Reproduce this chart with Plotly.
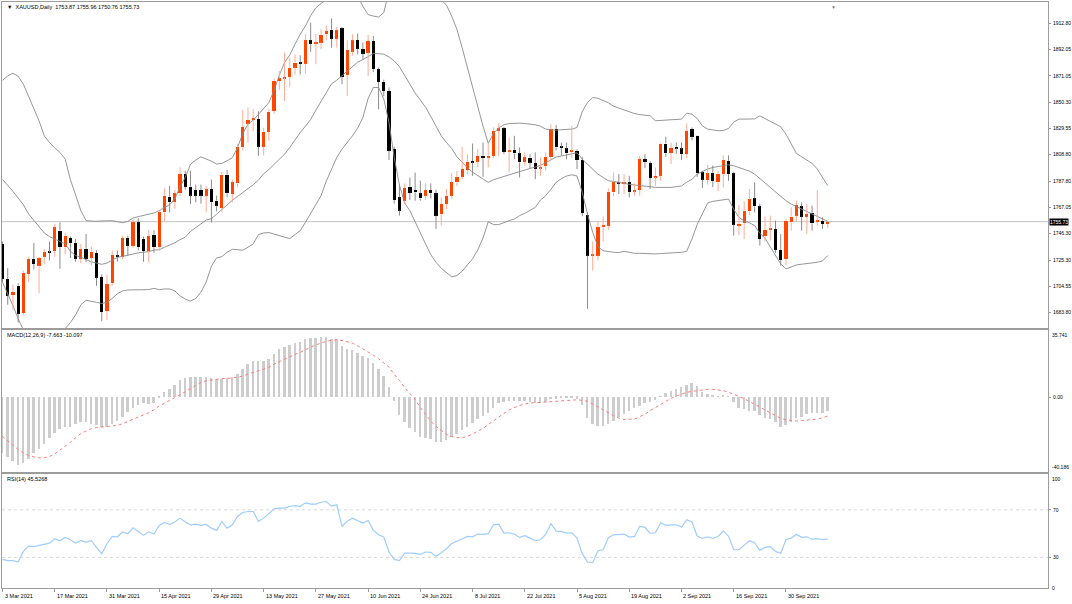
import plotly.graph_objects as go
from plotly.subplots import make_subplots

# XAUUSD daily, 3 Mar 2021 .. 12 Oct 2021 (bar index 0..158)
opens = [1738.1, 1710.5, 1697.5, 1705.2, 1683.4, 1714.4, 1726.3, 1721.0, 1728.0, 1731.5,
         1732.3, 1748.6, 1735.5, 1742.8, 1738.6, 1726.3, 1734.2, 1727.0, 1731.0, 1712.0,
         1685.0, 1707.0, 1729.0, 1728.0, 1742.8, 1736.8, 1755.2, 1742.0, 1732.3, 1745.2,
         1735.5, 1763.1, 1775.5, 1771.0, 1778.1, 1793.3, 1783.4, 1780.7, 1780.7, 1776.3,
         1781.5, 1772.3, 1766.5, 1792.8, 1777.6, 1786.0, 1814.4, 1833.3, 1836.2, 1836.8,
         1814.9, 1826.8, 1843.3, 1867.0, 1869.3, 1870.2, 1877.5, 1881.5, 1880.7, 1899.1,
         1896.5, 1897.3, 1903.9, 1907.5, 1900.4, 1908.6, 1871.8, 1890.2, 1899.4, 1892.0,
         1889.4, 1898.6, 1876.2, 1866.2, 1859.1, 1813.1, 1775.0, 1772.3, 1783.4, 1780.7,
         1778.1, 1776.3, 1780.7, 1778.1, 1761.8, 1769.7, 1776.3, 1786.8, 1791.2, 1796.5,
         1803.6, 1803.1, 1807.8, 1806.5, 1807.8, 1827.6, 1829.5, 1811.0, 1812.5, 1809.7,
         1803.1, 1806.3, 1802.0, 1798.0, 1799.9, 1807.0, 1828.9, 1814.9, 1813.6, 1811.0,
         1811.8, 1804.4, 1761.0, 1728.9, 1728.9, 1751.8, 1752.6, 1778.9, 1786.8, 1785.8,
         1786.8, 1779.7, 1780.7, 1805.2, 1802.0, 1791.0, 1792.0, 1817.5, 1809.7, 1814.9,
         1813.6, 1809.1, 1828.9, 1823.6, 1794.7, 1788.6, 1793.9, 1786.8, 1793.3, 1803.9,
         1793.9, 1752.8, 1754.4, 1763.9, 1774.1, 1767.8, 1744.2, 1749.4, 1749.9, 1733.4,
         1726.3, 1755.2, 1760.5, 1767.8, 1759.7, 1762.6, 1755.7, 1756.5, 1753.87]
highs = [1740.0, 1719.0, 1706.0, 1707.0, 1717.0, 1728.0, 1739.0, 1728.0, 1734.0, 1740.0,
         1754.0, 1755.2, 1747.0, 1744.0, 1742.0, 1738.0, 1746.0, 1736.0, 1733.0, 1714.0,
         1714.0, 1733.0, 1733.0, 1744.5, 1744.6, 1757.9, 1758.5, 1744.0, 1749.0, 1749.0,
         1764.0, 1782.0, 1784.0, 1781.0, 1798.6, 1796.0, 1796.0, 1785.0, 1785.0, 1784.0,
         1789.0, 1776.3, 1795.0, 1796.5, 1789.0, 1817.0, 1844.0, 1846.0, 1844.6, 1843.0,
         1830.0, 1845.0, 1869.0, 1874.9, 1889.4, 1885.4, 1888.0, 1887.3, 1903.9, 1913.1,
         1903.9, 1907.8, 1910.4, 1916.5, 1909.5, 1909.5, 1899.1, 1903.9, 1904.4, 1897.3,
         1903.3, 1902.5, 1877.5, 1868.0, 1861.8, 1815.0, 1785.0, 1786.0, 1790.7, 1794.6,
         1788.1, 1786.0, 1786.0, 1781.0, 1774.9, 1781.5, 1793.9, 1795.9, 1814.9, 1809.1,
         1817.5, 1813.1, 1818.3, 1817.0, 1830.2, 1833.6, 1830.7, 1822.3, 1823.6, 1814.4,
         1810.5, 1809.2, 1810.5, 1806.5, 1810.5, 1832.8, 1832.0, 1818.3, 1818.3, 1831.5,
         1813.0, 1807.0, 1763.0, 1740.0, 1756.5, 1760.0, 1782.0, 1794.7, 1793.3, 1793.3,
         1792.0, 1786.0, 1807.8, 1809.1, 1803.5, 1798.6, 1818.3, 1822.8, 1818.3, 1818.3,
         1818.3, 1833.3, 1830.2, 1824.0, 1796.0, 1800.7, 1800.0, 1796.0, 1808.1, 1808.1,
         1795.0, 1769.0, 1772.0, 1781.5, 1786.8, 1770.0, 1759.7, 1760.5, 1756.5, 1746.0,
         1758.0, 1767.0, 1772.3, 1771.0, 1769.7, 1768.4, 1780.7, 1759.2, 1755.96]
lows = [1708.0, 1690.0, 1686.0, 1676.0, 1682.0, 1708.0, 1718.0, 1699.0, 1722.0, 1725.0,
        1728.0, 1718.4, 1730.0, 1727.0, 1724.0, 1723.0, 1723.6, 1721.0, 1705.0, 1677.0,
        1678.0, 1705.0, 1724.0, 1726.0, 1728.9, 1735.0, 1733.0, 1724.0, 1723.6, 1731.0,
        1733.0, 1756.0, 1763.0, 1766.0, 1776.0, 1781.0, 1769.7, 1771.0, 1770.0, 1763.1,
        1755.0, 1763.9, 1763.1, 1775.0, 1771.0, 1783.0, 1812.0, 1818.3, 1827.0, 1807.8,
        1808.0, 1819.7, 1841.0, 1860.0, 1851.2, 1862.0, 1872.0, 1872.0, 1872.8, 1890.0,
        1880.2, 1892.0, 1899.0, 1893.3, 1893.3, 1864.4, 1855.2, 1887.0, 1888.0, 1884.0,
        1871.0, 1874.0, 1844.6, 1855.0, 1804.4, 1770.0, 1760.5, 1769.7, 1772.8, 1772.3,
        1772.3, 1773.0, 1774.0, 1749.9, 1752.6, 1765.7, 1774.0, 1784.0, 1789.0, 1793.0,
        1792.0, 1798.6, 1791.2, 1798.6, 1806.0, 1807.8, 1809.0, 1794.7, 1805.0, 1790.7,
        1800.0, 1798.0, 1789.4, 1792.0, 1796.0, 1805.0, 1812.0, 1808.0, 1805.0, 1806.0,
        1797.3, 1760.0, 1686.8, 1717.0, 1725.0, 1740.0, 1749.0, 1776.0, 1777.6, 1777.6,
        1774.9, 1776.3, 1776.3, 1798.0, 1781.5, 1784.1, 1788.0, 1807.0, 1801.2, 1809.0,
        1804.4, 1806.0, 1820.0, 1791.0, 1782.3, 1785.0, 1783.0, 1780.0, 1782.8, 1788.0,
        1744.7, 1745.0, 1742.0, 1761.0, 1763.0, 1736.8, 1740.0, 1741.0, 1731.0, 1721.0,
        1721.5, 1748.6, 1756.0, 1748.6, 1746.0, 1748.6, 1752.6, 1749.9, 1750.76]
closes = [1710.5, 1697.3, 1700.0, 1682.8, 1714.9, 1726.3, 1722.3, 1726.8, 1731.5, 1731.0,
          1751.2, 1735.5, 1744.7, 1738.9, 1726.3, 1734.2, 1726.3, 1732.0, 1711.3, 1684.2,
          1706.5, 1729.5, 1728.0, 1742.8, 1736.8, 1755.2, 1735.5, 1732.3, 1744.7, 1735.5,
          1763.1, 1776.3, 1771.0, 1778.1, 1793.3, 1783.4, 1776.3, 1776.3, 1776.3, 1781.5,
          1771.0, 1768.4, 1792.8, 1778.1, 1786.8, 1814.9, 1830.7, 1836.0, 1837.5, 1814.9,
          1826.8, 1842.6, 1867.0, 1869.1, 1869.8, 1877.0, 1881.5, 1880.7, 1899.1, 1896.5,
          1896.9, 1903.3, 1906.5, 1900.4, 1907.0, 1870.2, 1891.5, 1899.1, 1892.5, 1888.6,
          1898.6, 1876.2, 1866.2, 1859.1, 1811.8, 1772.8, 1764.4, 1782.3, 1778.4, 1778.9,
          1774.1, 1780.7, 1778.1, 1760.5, 1769.7, 1776.3, 1786.8, 1791.2, 1797.3, 1803.1,
          1802.6, 1807.8, 1806.0, 1807.5, 1827.6, 1829.5, 1811.0, 1811.8, 1809.7, 1802.6,
          1806.5, 1802.4, 1797.3, 1798.6, 1806.5, 1828.9, 1814.4, 1814.1, 1809.7, 1811.8,
          1804.4, 1762.6, 1728.9, 1729.7, 1751.3, 1752.8, 1779.4, 1786.8, 1786.0, 1786.3,
          1778.9, 1780.5, 1805.2, 1802.6, 1790.2, 1791.8, 1817.5, 1809.7, 1813.9, 1813.9,
          1809.1, 1827.6, 1822.8, 1793.9, 1788.9, 1793.9, 1788.1, 1793.3, 1804.4, 1793.3,
          1753.4, 1753.8, 1763.9, 1773.6, 1767.8, 1742.0, 1749.2, 1750.2, 1733.4, 1725.5,
          1756.5, 1759.7, 1769.1, 1759.7, 1761.8, 1754.4, 1756.5, 1753.9, 1755.73]

# Bollinger Bands (20, 2)
bb_upper = [1867.5, 1870.9, 1873.1, 1870.7, 1864.4, 1854.4, 1844.7, 1835.4, 1823.6, 1818.3,
            1814.1, 1810.5, 1805.2, 1788.9, 1776.8, 1764.4, 1756.5, 1756.0, 1756.0, 1756.3,
            1756.5, 1756.5, 1755.7, 1754.9, 1756.0, 1758.6, 1759.7, 1760.5, 1761.3, 1762.6,
            1764.4, 1767.0, 1769.1, 1773.9, 1783.4, 1790.7, 1801.2, 1804.4, 1807.0, 1805.2,
            1803.6, 1801.3, 1801.8, 1803.9, 1806.3, 1814.2, 1825.5, 1832.8, 1836.0, 1840.5,
            1845.2, 1849.9, 1859.7, 1871.5, 1881.5, 1887.5, 1896.0, 1903.9, 1910.4, 1918.6,
            1924.9, 1928.1, 1931.5, 1933.0, 1932.0, 1935.0, 1934.0, 1934.5, 1934.0, 1926.0,
            1919.4, 1918.3, 1917.5, 1921.0, 1937.9, 1959.0, 1971.9, 1973.0, 1967.0, 1962.0,
            1957.6, 1954.3, 1948.1, 1937.8, 1931.0, 1927.0, 1918.3, 1907.8, 1893.3, 1877.5,
            1863.0, 1846.5, 1831.2, 1817.6, 1825.5, 1829.9, 1832.3, 1833.3, 1833.6, 1833.6,
            1833.3, 1832.8, 1832.3, 1831.2, 1828.9, 1828.4, 1828.1, 1828.4, 1828.6, 1828.9,
            1830.2, 1842.8, 1849.9, 1853.9, 1853.3, 1851.8, 1849.7, 1847.0, 1845.5, 1843.6,
            1842.3, 1841.2, 1840.4, 1839.9, 1839.4, 1835.5, 1835.7, 1836.0, 1836.0, 1836.5,
            1836.8, 1841.5, 1840.7, 1837.3, 1831.5, 1828.9, 1828.1, 1827.6, 1827.8, 1829.4,
            1834.4, 1836.8, 1836.8, 1836.8, 1837.0, 1839.4, 1837.3, 1835.5, 1833.3, 1830.7,
            1824.9, 1817.6, 1809.7, 1807.0, 1804.4, 1801.8, 1797.3, 1790.7, 1784.2]
bb_middle = [1789.1, 1784.7, 1779.7, 1774.4, 1769.1, 1761.8, 1756.5, 1751.3, 1746.8, 1743.9,
             1742.0, 1740.2, 1738.1, 1732.3, 1728.9, 1727.6, 1725.5, 1724.0, 1723.0, 1722.0,
             1723.0, 1725.0, 1727.5, 1728.3, 1729.3, 1730.5, 1731.1, 1731.6, 1732.0, 1733.3,
             1733.5, 1735.5, 1737.0, 1739.0, 1741.5, 1743.5, 1748.0, 1751.0, 1753.5, 1757.0,
             1758.1, 1761.5, 1764.9, 1768.9, 1772.6, 1775.5, 1778.6, 1781.8, 1784.9, 1788.6,
             1793.6, 1797.0, 1801.0, 1804.9, 1809.1, 1814.4, 1820.7, 1826.2, 1831.2, 1836.5,
             1843.9, 1850.7, 1857.0, 1864.7, 1867.6, 1871.0, 1874.4, 1878.1, 1881.8, 1883.9,
             1886.0, 1888.6, 1888.6, 1888.1, 1886.0, 1882.8, 1878.3, 1871.8, 1864.4, 1857.5,
             1851.8, 1846.2, 1838.9, 1830.7, 1823.6, 1818.3, 1813.6, 1807.0, 1802.6, 1798.4,
             1794.9, 1791.8, 1789.4, 1786.8, 1788.9, 1790.2, 1791.5, 1793.1, 1794.1, 1795.5,
             1796.8, 1797.8, 1798.9, 1800.2, 1802.3, 1804.4, 1806.8, 1807.6, 1808.6, 1809.7,
             1810.2, 1805.2, 1801.2, 1797.3, 1793.3, 1790.7, 1788.1, 1787.6, 1786.8, 1785.5,
             1785.2, 1784.7, 1784.4, 1783.9, 1783.4, 1782.8, 1782.8, 1782.8, 1782.8, 1783.4,
             1783.9, 1787.0, 1789.1, 1793.3, 1795.4, 1797.3, 1798.6, 1799.4, 1800.2, 1800.7,
             1799.9, 1798.6, 1797.3, 1795.7, 1793.3, 1789.4, 1786.3, 1782.8, 1779.1, 1775.5,
             1772.3, 1769.7, 1767.6, 1765.5, 1763.9, 1761.8, 1759.9, 1757.8, 1756.0]
bb_lower = [1707.8, 1699.2, 1689.4, 1678.9, 1670.0, 1669.2, 1668.3, 1667.2, 1670.0, 1669.5,
            1669.9, 1669.9, 1671.0, 1676.0, 1682.0, 1690.0, 1693.5, 1693.0, 1692.0, 1691.0,
            1692.0, 1695.0, 1698.8, 1701.0, 1701.7, 1701.8, 1702.0, 1702.0, 1702.0, 1703.0,
            1702.0, 1702.5, 1702.5, 1701.0, 1697.0, 1694.5, 1693.0, 1695.0, 1700.0, 1708.0,
            1720.5, 1727.1, 1728.1, 1731.5, 1733.9, 1733.6, 1733.1, 1735.5, 1738.1, 1745.5,
            1746.8, 1747.1, 1746.0, 1745.0, 1743.9, 1742.3, 1745.5, 1748.6, 1755.2, 1762.3,
            1769.1, 1776.3, 1787.8, 1796.8, 1806.5, 1813.1, 1818.3, 1823.6, 1829.7, 1838.1,
            1853.1, 1861.8, 1861.8, 1852.8, 1834.1, 1806.5, 1784.7, 1770.5, 1764.4, 1755.2,
            1746.0, 1738.1, 1729.7, 1723.6, 1718.9, 1715.7, 1712.1, 1713.1, 1716.5, 1721.5,
            1726.3, 1733.4, 1742.8, 1755.7, 1753.4, 1753.4, 1755.2, 1756.5, 1757.8, 1760.5,
            1762.3, 1764.4, 1767.0, 1772.8, 1776.3, 1781.3, 1786.8, 1789.7, 1791.8, 1792.8,
            1791.8, 1778.9, 1761.8, 1747.3, 1736.0, 1732.8, 1732.0, 1731.5, 1731.3, 1732.3,
            1731.5, 1730.7, 1730.7, 1730.5, 1730.2, 1730.2, 1730.5, 1730.7, 1731.0, 1731.3,
            1731.5, 1732.3, 1742.0, 1753.4, 1762.3, 1770.5, 1771.8, 1772.6, 1773.1, 1773.6,
            1765.5, 1759.2, 1756.3, 1754.9, 1752.6, 1746.5, 1742.6, 1736.0, 1729.9, 1722.3,
            1718.4, 1719.9, 1721.5, 1722.1, 1722.6, 1723.1, 1723.6, 1724.7, 1728.9]

# MACD(12,26,9): main line as histogram, signal line
macd_main = [-30.2, -32.5, -34.3, -36.8, -35.6, -33.4, -30.2, -27.9, -25.2, -22.2,
             -19.2, -17.2, -16.0, -16.0, -14.7, -13.8, -13.8, -14.5, -15.1, -16.3,
             -16.0, -14.7, -12.8, -10.6, -8.3, -6.2, -4.4, -3.5, -3.8, -3.1,
             -0.6, 2.6, 4.0, 6.3, 9.0, 10.2, 10.4, 10.4, 10.4, 10.8,
             9.9, 9.7, 9.7, 10.1, 10.8, 12.2, 14.9, 17.4, 19.3, 19.0,
             19.0, 20.0, 22.9, 25.4, 26.8, 27.7, 28.9, 29.3, 30.7, 31.3,
             31.4, 31.8, 32.0, 30.9, 30.7, 27.2, 25.4, 25.0, 23.2, 21.8,
             20.6, 17.9, 14.7, 11.1, 5.4, -2.1, -9.7, -13.3, -16.9, -19.1,
             -21.3, -22.2, -22.7, -24.0, -24.3, -23.4, -21.3, -19.9, -17.7, -16.0,
             -14.2, -12.0, -10.3, -8.5, -6.1, -3.5, -2.8, -2.2, -2.1, -2.1,
             -2.1, -2.6, -3.1, -3.1, -2.6, -1.2, -1.0, -0.8, -0.8, -0.8,
             -1.0, -4.4, -11.5, -14.5, -15.6, -15.6, -14.7, -12.8, -11.0, -9.2,
             -7.9, -6.2, -4.9, -3.1, -2.8, -1.7, 0.1, 1.8, 3.1, 4.2,
             5.1, 6.3, 7.2, 5.8, 2.7, 1.3, 0.6, 0.1, 0.4, 0.1,
             -2.6, -6.2, -6.7, -7.9, -7.6, -9.7, -11.5, -12.0, -13.8, -16.0,
             -15.1, -13.8, -11.5, -11.0, -9.2, -8.8, -8.8, -8.5, -7.663]
macd_signal = [-21.0, -23.5, -25.8, -28.1, -29.9, -31.3, -32.0, -32.5, -32.4, -31.8,
               -30.4, -28.4, -26.1, -24.2, -21.7, -19.5, -18.1, -16.9, -16.3, -16.0,
               -15.8, -15.6, -15.1, -14.2, -13.1, -12.0, -10.8, -9.4, -8.3, -6.7,
               -4.7, -3.3, -1.9, -0.3, 1.3, 2.9, 4.5, 6.1, 7.9, 8.8,
               9.3, 9.7, 9.9, 10.1, 10.2, 10.8, 11.3, 12.4, 13.3, 14.1,
               15.0, 15.9, 17.7, 19.1, 20.4, 21.6, 22.9, 24.0, 25.6, 26.8,
               28.0, 29.1, 30.0, 30.4, 30.7, 30.4, 29.8, 28.9, 27.5, 25.9,
               24.5, 22.5, 20.6, 18.1, 16.1, 12.2, 9.0, 5.1, 1.9, -1.2,
               -5.6, -9.2, -12.8, -15.6, -17.9, -19.9, -21.1, -21.7, -21.7, -21.0,
               -19.7, -18.3, -16.7, -14.7, -12.6, -10.6, -8.7, -6.9, -5.5, -4.4,
               -3.7, -3.1, -3.0, -2.8, -2.6, -2.4, -2.1, -1.9, -1.7, -1.5,
               -1.4, -1.7, -2.2, -3.7, -5.1, -6.7, -8.3, -9.9, -11.2, -11.9,
               -12.0, -11.7, -10.4, -9.2, -7.2, -5.5, -3.8, -2.2, -0.6, 0.6,
               1.7, 2.6, 3.1, 3.6, 4.0, 4.2, 4.2, 3.8, 3.5, 2.7,
               1.7, 0.4, -0.8, -2.2, -3.8, -5.3, -6.9, -8.5, -9.9, -11.3,
               -12.2, -12.6, -12.8, -12.6, -12.4, -12.0, -11.7, -11.0, -10.097]

# RSI(14)
rsi = [28.3, 27.2, 27.2, 26.1, 35.0, 39.5, 39.0, 40.1, 41.5, 42.0,
       45.7, 44.0, 46.8, 44.8, 42.0, 44.3, 42.6, 44.3, 38.4, 33.1,
       41.5, 47.6, 47.3, 51.3, 49.9, 54.9, 51.8, 48.5, 51.5, 49.6,
       56.9, 59.4, 57.7, 59.7, 63.0, 59.7, 57.4, 58.0, 56.9, 57.7,
       54.6, 52.7, 60.2, 54.6, 57.4, 64.4, 67.8, 68.6, 68.6, 60.2,
       63.0, 66.6, 70.8, 71.4, 71.4, 72.8, 73.6, 72.8, 75.9, 74.8,
       74.8, 76.4, 77.0, 73.1, 74.2, 56.0, 60.5, 63.0, 61.0, 58.8,
       61.0, 52.7, 49.0, 47.1, 34.5, 28.3, 27.2, 33.6, 33.5, 33.4,
       32.5, 34.5, 34.2, 30.8, 33.9, 37.3, 41.7, 43.4, 45.4, 47.6,
       47.3, 49.6, 49.3, 49.9, 57.4, 58.0, 50.4, 50.7, 49.6, 46.8,
       48.2, 46.2, 44.0, 44.8, 49.3, 58.3, 52.1, 51.8, 50.4, 50.7,
       46.2, 33.1, 26.1, 25.5, 35.6, 36.4, 46.5, 49.0, 49.6, 49.6,
       47.1, 47.6, 56.0, 55.2, 50.1, 50.7, 59.1, 56.9, 57.4, 57.4,
       55.5, 61.6, 59.7, 47.9, 45.9, 47.3, 45.9, 47.6, 52.1, 47.9,
       36.4, 36.4, 40.3, 44.0, 42.3, 35.9, 38.4, 39.0, 35.0, 33.4,
       44.8, 46.2, 49.3, 46.8, 47.3, 45.1, 45.7, 44.8, 45.5268]

date_bars = [0, 10, 20, 30, 40, 50, 60, 70, 80, 90, 100, 110, 120, 130, 140, 150]
date_labels = ["3 Mar 2021", "17 Mar 2021", "31 Mar 2021", "15 Apr 2021", "29 Apr 2021",
               "13 May 2021", "27 May 2021", "10 Jun 2021", "24 Jun 2021", "8 Jul 2021",
               "22 Jul 2021", "5 Aug 2021", "19 Aug 2021", "2 Sep 2021", "16 Sep 2021",
               "30 Sep 2021"]
price_ticks = [1912.80, 1892.05, 1871.05, 1850.30, 1829.55, 1808.80,
               1787.80, 1767.05, 1746.30, 1725.30, 1704.55, 1683.80]
last_price = 1755.73

FONT = "Liberation Sans"
FS = 5.5
AX_FS = 5
BULL = "#ff4500"
BULL_WICK = "#ffab94"
BEAR = "#000000"
BEAR_WICK = "#8c8c8c"
FRAME = "#9c9c9c"

idx = list(range(len(closes)))
up = [c >= o for o, c in zip(opens, closes)]

fig = make_subplots(rows=3, cols=1, shared_xaxes=True, vertical_spacing=0.0)


def wicks(want_up):
    xs, ys = [], []
    for i in idx:
        if up[i] != want_up:
            continue
        top = max(opens[i], closes[i])
        bot = min(opens[i], closes[i])
        xs += [i, i, None, i, i, None]
        ys += [highs[i], top, None, bot, lows[i], None]
    return xs, ys


# bands
for band in (bb_upper, bb_middle, bb_lower):
    fig.add_trace(go.Scatter(x=idx, y=band, mode="lines",
                             line=dict(color="#8a8a8a", width=0.9),
                             hoverinfo="skip", showlegend=False), row=1, col=1)

for want_up, col in ((True, BULL_WICK), (False, BEAR_WICK)):
    wx, wy = wicks(want_up)
    fig.add_trace(go.Scatter(x=wx, y=wy, mode="lines", line=dict(color=col, width=1),
                             hoverinfo="skip", showlegend=False), row=1, col=1)

fig.add_trace(go.Bar(
    x=idx,
    y=[max(abs(c - o), 0.8) for o, c in zip(opens, closes)],
    base=[min(o, c) for o, c in zip(opens, closes)],
    width=0.62,
    marker=dict(color=[BULL if u else BEAR for u in up], line=dict(width=0)),
    showlegend=False), row=1, col=1)

# MACD
fig.add_trace(go.Bar(x=idx, y=macd_main, width=0.38,
                     marker=dict(color="#cdcdcd", line=dict(width=0)),
                     showlegend=False), row=2, col=1)
fig.add_trace(go.Scatter(x=idx, y=macd_signal, mode="lines",
                         line=dict(color="#ff7a7a", width=1, dash="dot"),
                         showlegend=False), row=2, col=1)

# RSI
fig.add_trace(go.Scatter(x=idx, y=rsi, mode="lines",
                         line=dict(color="#9fcdff", width=1.2),
                         showlegend=False), row=3, col=1)

W, H = 1072, 604
ml, mr, mt, mb = 1, 22, 1, 16
plot_h = H - mt - mb
bottom_px = H - mb


def dom(top_px, bot_px):
    return [(bottom_px - bot_px) / plot_h, (bottom_px - top_px) / plot_h]


px_per_bar = 5.238
x0 = -(1.5 - ml) / px_per_bar
x1 = x0 + (W - ml - mr) / px_per_bar

fig.update_layout(
    width=W, height=H,
    margin=dict(l=ml, r=mr, t=mt, b=mb),
    paper_bgcolor="white", plot_bgcolor="white",
    bargap=0, barmode="overlay",
    font=dict(family=FONT, size=FS, color="black"),
    showlegend=False,
)

for n in (1, 2, 3):
    fig.update_xaxes(range=[x0, x1], showgrid=False, zeroline=False,
                     showline=True, mirror=True, linecolor=FRAME, linewidth=1,
                     showticklabels=False, ticks="", row=n, col=1)
fig.update_xaxes(ticks="outside", ticklen=3, tickcolor=FRAME,
                 tickvals=date_bars, row=3, col=1)

fig.update_yaxes(domain=dom(1, 328), range=[1671.3, 1929.4], side="right",
                 tickvals=price_ticks, ticktext=["%.2f" % v for v in price_ticks],
                 row=1, col=1)
fig.update_yaxes(domain=dom(330, 472), range=[-40.186, 35.741], side="right",
                 tickvals=[0], ticktext=["0.00"], row=2, col=1)
fig.update_yaxes(domain=dom(474, 588), range=[4.2, 100], side="right",
                 tickvals=[70, 30], ticktext=["70", "30"], row=3, col=1)
fig.update_yaxes(showgrid=False, zeroline=False, showline=True, mirror=True,
                 linecolor=FRAME, linewidth=1, ticks="outside", ticklen=2,
                 tickcolor=FRAME, ticklabelstandoff=1,
                 tickfont=dict(size=AX_FS, family=FONT))

# current price line and RSI levels
fig.add_hline(y=last_price, line=dict(color="#c4c4c4", width=1), layer="below", row=1, col=1)
for lvl in (70, 30):
    fig.add_hline(y=lvl, line=dict(color="#d6d6d6", width=1, dash="dot"),
                  layer="below", row=3, col=1)

axfont = dict(size=AX_FS, family=FONT, color="black")
notes = [
    dict(x=0.003, y=1, xref="paper", yref="y domain", xanchor="left", yanchor="top",
         text="\u25bc  XAUUSD,Daily  1753.87 1755.96 1750.76 1755.73"),
    dict(x=0.003, y=1, xref="paper", yref="y2 domain", xanchor="left", yanchor="top",
         text="MACD(12,26,9) -7.663 -10.097"),
    dict(x=0.003, y=1, xref="paper", yref="y3 domain", xanchor="left", yanchor="top",
         text="RSI(14) 45.5268"),
    dict(x=1, y=1, xref="paper", yref="y2 domain", xanchor="left", yanchor="top",
         xshift=2, text="35.741", font=axfont),
    dict(x=1, y=0, xref="paper", yref="y2 domain", xanchor="left", yanchor="bottom",
         xshift=2, text="-40.186", font=axfont),
    dict(x=1, y=1, xref="paper", yref="y3 domain", xanchor="left", yanchor="top",
         xshift=2, text="100", font=axfont),
    dict(x=1, y=0, xref="paper", yref="y3 domain", xanchor="left", yanchor="middle",
         xshift=2, text="0", font=axfont),
    dict(x=1, y=last_price, xref="paper", yref="y", xanchor="left", yanchor="middle",
         xshift=1, text="%.2f" % last_price, bgcolor="black",
         font=dict(color="white", size=AX_FS, family=FONT), borderpad=0),
    dict(x=159.1, y=1, xref="x", yref="y domain", xanchor="center", yanchor="top",
         text="\u25bc", font=dict(color="#7f7f7f", size=5, family=FONT)),
]
for d, lab in zip(date_bars, date_labels):
    notes.append(dict(x=d, y=0, xref="x3", yref="paper", xanchor="left", yanchor="top",
                      yshift=-3, text=lab))
for a in notes:
    a.setdefault("showarrow", False)
    a.setdefault("font", dict(size=FS, family=FONT, color="black"))
    fig.add_annotation(**a)

# the page is photographed at exactly the figure size: drop the body margin
fig.write_html("out.html",
               config={"displayModeBar": False},
               post_script="document.body.style.margin='0';"
                           "document.body.style.overflow='hidden';")
